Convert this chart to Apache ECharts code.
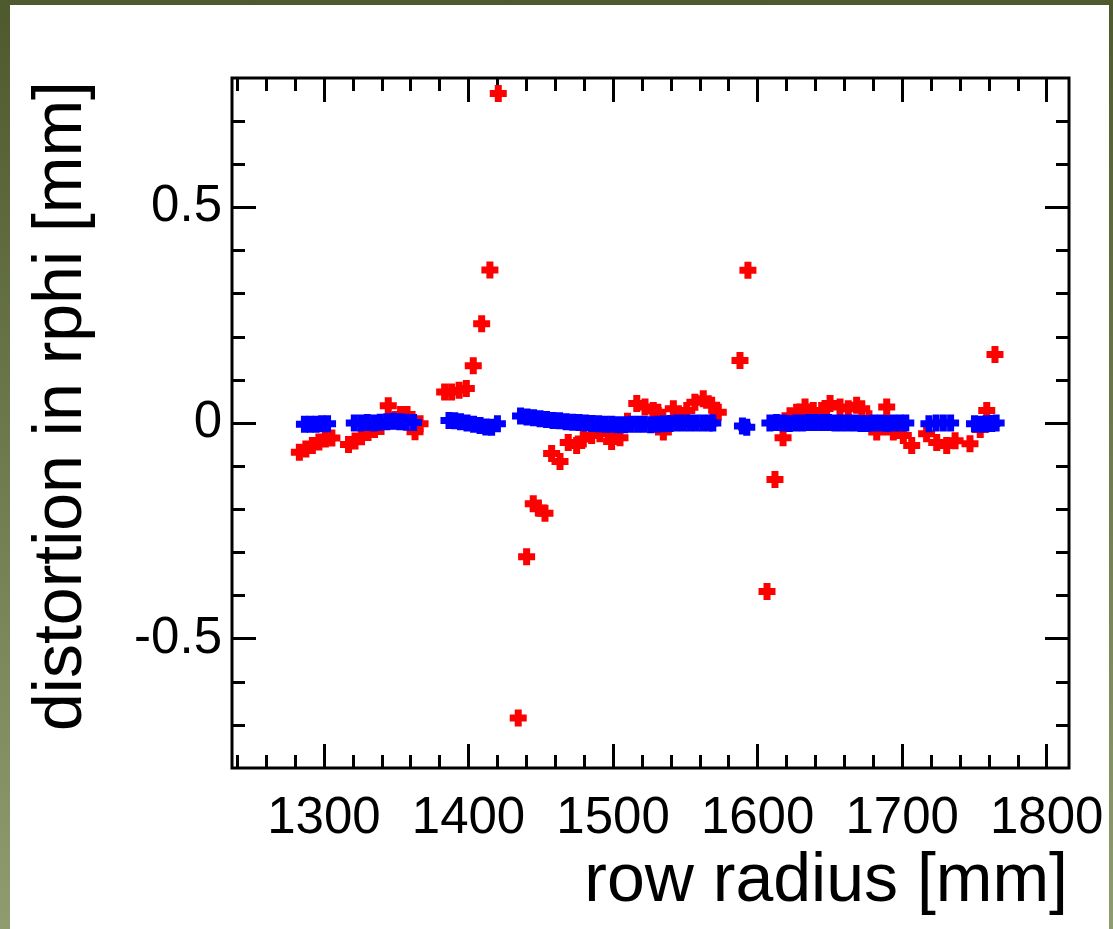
<!DOCTYPE html>
<html><head><meta charset="utf-8">
<script src="https://cdn.jsdelivr.net/npm/echarts@6/dist/echarts.min.js"></script>
<style>
html,body{margin:0;padding:0;background:#fff;overflow:hidden}
#wrap{position:relative;width:1113px;height:929px;background:linear-gradient(#4e5a2d,#8f9c70)}
#paper{position:absolute;left:10px;top:5px;width:1099px;height:924px;background:#fff}
#c{position:absolute;left:0;top:0;width:1113px;height:929px}
</style>
</head><body>
<div id="wrap"><div id="paper"></div><div id="c"></div></div>
<script>
// ---- data (row radius [mm], distortion [mm]) ----
const redX = [1283,1287.5,1292,1296.5,1301,1305.5,
  1317,1321.5,1326,1330.5,1335,1339.5,1344.5,1348.5,1353,1357.5,1363,1366.5,
  1383.5,1388.3,1393.5,1398.5,1403.3,1409.1,1414.8,1420.6,
  1434.4,1440.2,1444.8,1448.3,1452.9,1457.5,1463.3,1469,1474.8,1479.4,1485.2,1490.9,1496.7,1499,1504.8,1510,1516.4,1522.1,1527.8,1531,1534.8,1541.7,1546,1551,1556.6,1562.4,1568.2,1572.8,
  1587.8,1593.3,
  1606.5,1612,1617.6,1622.4,1627,1632.8,1638.5,1644.3,1650.1,1657,1662.7,1668.5,1672,1677,1682.4,1689.3,1693.9,1700.8,1706.6,1716.9,1723.9,1730.8,1736.6,1746.9,1754,1758.5,1764.2];
const redY = [-0.068,-0.060,-0.052,-0.044,-0.037,-0.035,
  -0.050,-0.042,-0.032,-0.022,-0.015,-0.008,0.040,0.005,0.020,0.020,-0.020,-0.002,
  0.072,0.072,0.076,0.080,0.133,0.230,0.355,0.764,
  -0.684,-0.310,-0.187,-0.197,-0.209,-0.071,-0.089,-0.045,-0.052,-0.037,-0.029,-0.025,-0.021,-0.043,-0.034,0.004,0.045,0.037,0.029,0.025,-0.021,0.033,0.012,0.029,0.048,0.056,0.041,0.025,
  0.145,0.354,
  -0.391,-0.131,-0.034,0.017,0.025,0.037,0.029,0.029,0.045,0.037,0.033,0.041,0.033,0.010,-0.021,0.037,-0.021,-0.029,-0.052,-0.025,-0.045,-0.052,-0.041,-0.048,-0.015,0.029,0.159];
const blueX = [1286.5,1290.5,1294.5,1298.5,1302.5,
  1321,1325.5,1330,1334.5,1339,1343.5,1348,1352.5,1357,1362,
  1386.5,1390.5,1394.5,1399,1403.5,1408,1412,1416,1420,
  1436,1440.5,1445,1449.5,1454,1458.5,1463,1467.5,1472,1476.5,1481,1485.5,1490,1494.5,1499,1503.5,1508,1512.5,1517,1521.5,1526,1530.5,1535,1539.5,1544,1548.5,1553,1557.5,1562,1566.5,1569,
  1589.5,1592.5,
  1608.5,1613,1617.5,1622,1626.5,1631,1635.5,1640,1644.5,1649,1653.5,1658,1662.5,1667,1671.5,1676,1680.5,1685,1689.5,1694,1698.5,1702.5,
  1718.5,1723.5,1728.5,1733.5,
  1750,1754,1758,1762,1765];
const blueY = [-0.003,-0.003,-0.003,-0.002,-0.002,
  0.000,0.000,0.001,0.000,0.002,0.003,0.004,0.003,0.002,0.001,
  0.006,0.005,0.003,0.000,-0.003,-0.006,-0.009,-0.010,-0.002,
  0.016,0.014,0.012,0.010,0.008,0.006,0.005,0.003,0.002,0.001,0.000,-0.001,-0.002,-0.003,-0.003,-0.004,-0.004,-0.003,-0.003,-0.003,-0.004,-0.003,-0.002,-0.001,0.000,0.000,0.000,0.000,0.000,0.000,0.000,
  -0.007,-0.010,
  0.000,0.001,0.000,-0.001,0.000,0.000,0.001,0.001,0.001,0.001,0.000,0.000,0.000,0.000,-0.001,-0.001,0.000,0.000,-0.001,0.000,0.000,0.000,
  -0.002,0.000,0.000,0.000,
  -0.002,-0.003,-0.002,-0.001,0.000];
const xMajorTicks = [1300,1400,1500,1600,1700,1800];
const xMinorTicks = [1240,1260,1280,1300,1320,1340,1360,1380,1400,1420,1440,1460,1480,1500,1520,1540,1560,1580,1600,1620,1640,1660,1680,1700,1720,1740,1760,1780,1800];
const yMajorTicks = [-0.5,0,0.5];
const yMinorTicks = [-0.7,-0.6,-0.5,-0.4,-0.3,-0.2,-0.1,0,0.1,0.2,0.3,0.4,0.5,0.6,0.7];
const xTitle = 'row radius [mm]';
const yTitle = 'distortion in rphi [mm]';

const X_MIN = 1236.4, X_MAX = 1815.4, Y_MIN = -0.8, Y_MAX = 0.8;
const FONT = '"Liberation Sans", Arial, Helvetica, sans-serif';
const PLUS = 'path://M5,0H12V5H17V12H12V17H5V12H0V5H5Z';

function zip(a, b) { return a.map((v, i) => [v, b[i]]); }

function axis(kind, pos, ticks, len, labels) {
  const isX = kind === 'x';
  return {
    type: 'value', position: pos,
    min: isX ? X_MIN : Y_MIN, max: isX ? X_MAX : Y_MAX,
    axisLine: { show: false, onZero: false },
    splitLine: { show: false },
    axisTick: { show: true, inside: true, length: len, customValues: ticks,
      lineStyle: { color: '#000', width: 3 } },
    axisLabel: labels ? {
      show: true, customValues: labels, color: '#000', fontSize: 51, fontFamily: FONT,
      margin: isX ? 25 : 10,
      formatter: v => String(v)
    } : { show: false }
  };
}

const chart = echarts.init(document.getElementById('c'), null, { renderer: 'canvas' });
chart.setOption({
  animation: false,
  backgroundColor: 'transparent',
  grid: { left: 232, right: 44, top: 78, bottom: 161, show: true,
    borderColor: '#000', borderWidth: 3, backgroundColor: 'transparent' },
  xAxis: [
    axis('x', 'bottom', xMajorTicks, 24, xMajorTicks),
    axis('x', 'bottom', xMinorTicks, 13, null),
    axis('x', 'top', xMajorTicks, 24, null),
    axis('x', 'top', xMinorTicks, 13, null)
  ],
  yAxis: [
    axis('y', 'left', yMajorTicks, 24, yMajorTicks),
    axis('y', 'left', yMinorTicks, 13, null),
    axis('y', 'right', yMajorTicks, 24, null),
    axis('y', 'right', yMinorTicks, 13, null)
  ],
  graphic: [
    { type: 'text', x: 1068, y: 882,
      style: { text: xTitle, font: '68px ' + FONT, fill: '#000',
        textAlign: 'right', textVerticalAlign: 'middle' } },
    { type: 'text', x: 62, y: 406, rotation: Math.PI / 2,
      style: { text: yTitle, font: '68px ' + FONT, fill: '#000',
        textAlign: 'center', textVerticalAlign: 'middle' } }
  ],
  series: [
    { type: 'scatter', xAxisIndex: 0, yAxisIndex: 0, data: zip(redX, redY),
      symbol: PLUS, symbolSize: 17, itemStyle: { color: '#ff0000', opacity: 1 } },
    { type: 'scatter', xAxisIndex: 0, yAxisIndex: 0, data: zip(blueX, blueY),
      symbol: PLUS, symbolSize: 17, itemStyle: { color: '#0000ff', opacity: 1 } }
  ]
});
</script>
</body></html>
